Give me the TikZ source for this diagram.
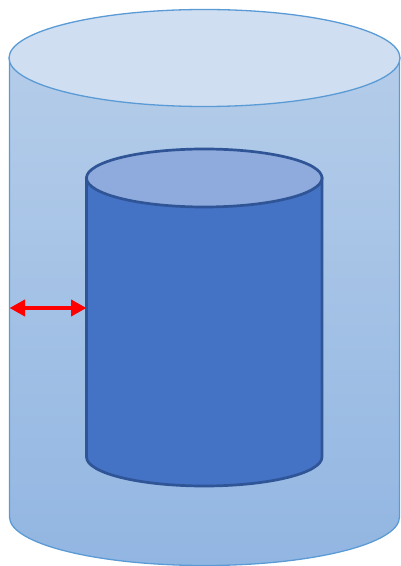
\documentclass[tikz,border=0pt]{standalone}
\usetikzlibrary{arrows.meta,positioning,shapes.geometric}
\definecolor{outerline}{HTML}{5B9BD5}
\definecolor{outertop}{HTML}{CFDEF1}
\definecolor{outerhigh}{HTML}{B4CCE9}
\definecolor{outerlow}{HTML}{92B6E2}
\definecolor{innerline}{HTML}{2F5597}
\definecolor{innerfill}{HTML}{4472C4}
\definecolor{innertop}{HTML}{8FAADC}
\begin{document}
\begin{tikzpicture}[
    x=1pt, y=1pt,
    outerbody/.style={draw=outerline, line width=1.3pt, top color=outerhigh, bottom color=outerlow},
    outerlid/.style={ellipse, inner sep=0pt, minimum width=391pt, minimum height=97pt, draw=outerline, line width=1.3pt, fill=outertop},
    innerbody/.style={draw=innerline, line width=2.7pt, fill=innerfill},
    innerlid/.style={ellipse, inner sep=0pt, minimum width=235.5pt, minimum height=58pt, draw=innerline, line width=2.7pt, fill=innertop},
    gaparrow/.style={draw=red, line width=4pt, {Triangle[length=15.5pt,width=16pt]}-{Triangle[length=15.5pt,width=16pt]}}
]
    \useasboundingbox (0,0) rectangle (400,566);
    % outer cylinder
    \coordinate (outerleft) at (9.5,49);
    \coordinate (outerright) at (399.5,49);
    \coordinate (outerlidleft) at (9.5,508);
    \coordinate (outerlidright) at (399.5,508);
    \draw[outerbody] (outerlidleft) -- (outerleft) arc[start angle=180, end angle=360, x radius=195pt, y radius=48.5pt] -- (outerlidright) -- cycle;
    \node[outerlid] (outertop) at (204.5,508) {};
    % inner cylinder
    \coordinate (innerleft) at (86.5,109);
    \coordinate (innerright) at (322,109);
    \coordinate (innerlidleft) at (86.5,388);
    \coordinate (innerlidright) at (322,388);
    \draw[innerbody] (innerlidleft) -- (innerleft) arc[start angle=180, end angle=360, x radius=117.75pt, y radius=29pt] -- (innerlidright) -- cycle;
    \node[innerlid] (innertop) at (204.25,388) {};
    % gap between the walls
    \coordinate (gapleft) at (9.5,258);
    \coordinate (gapright) at (86.5,258);
    \draw[gaparrow] (gapleft) -- (gapright);
\end{tikzpicture}
\end{document}
